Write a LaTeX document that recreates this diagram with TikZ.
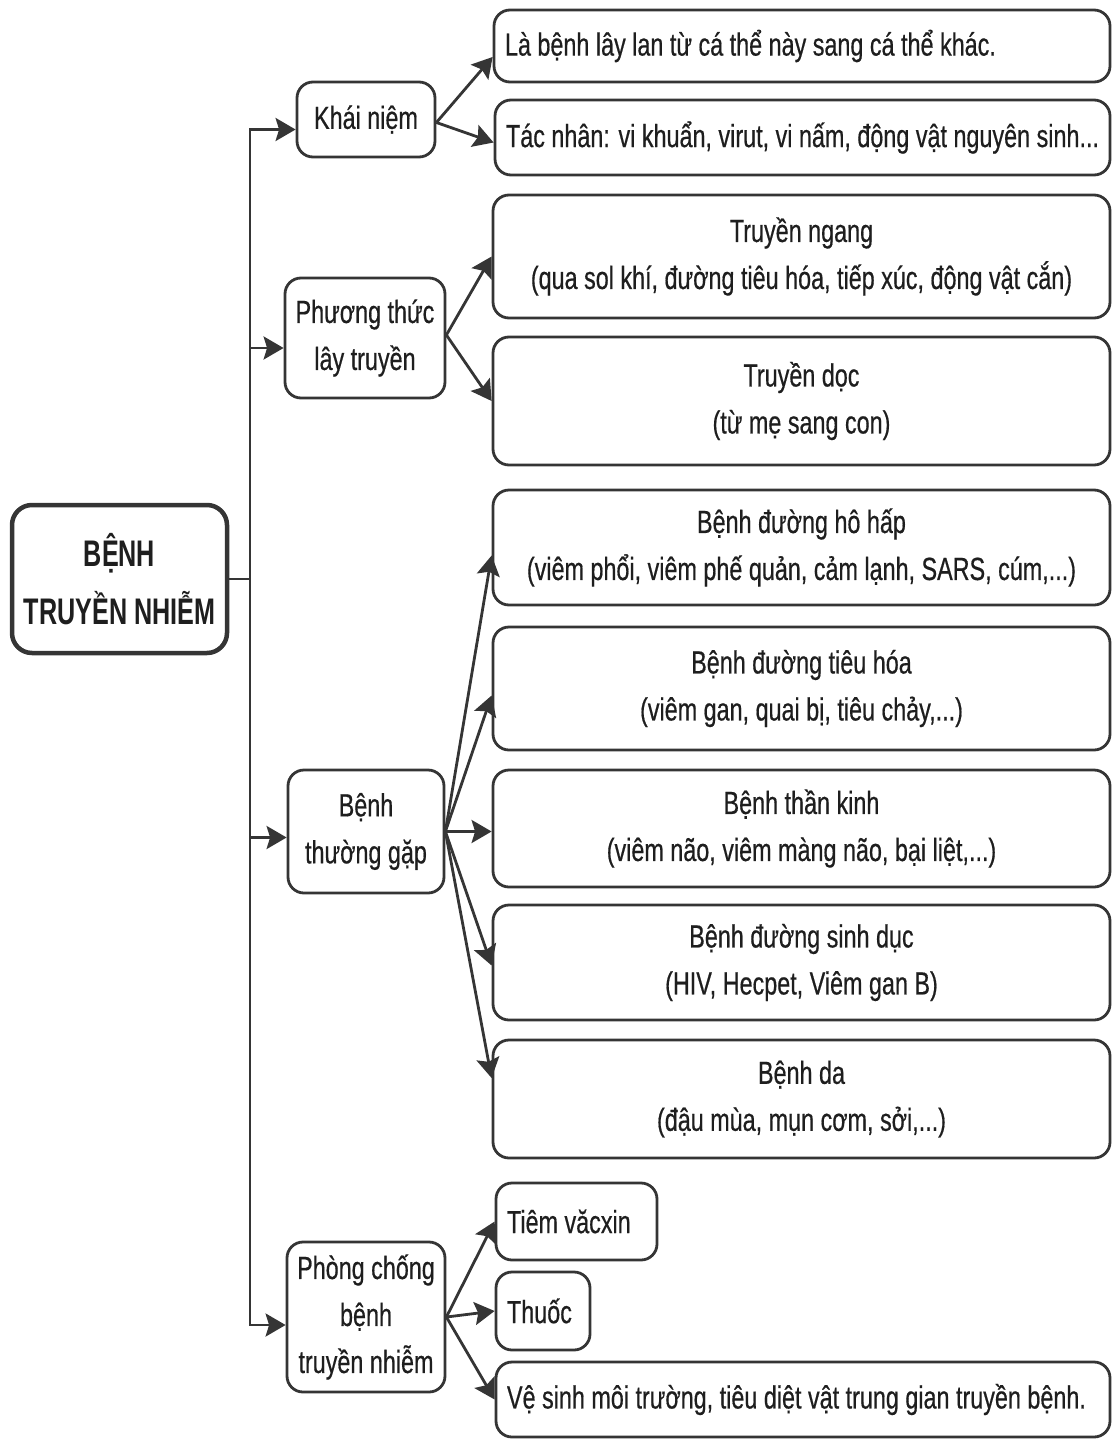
\documentclass[tikz,border=0pt]{standalone}
\usepackage{fontspec}
\setmainfont{Liberation Sans}[FakeStretch=0.73,FakeBold=0.5]
\newfontfamily\titlefont{Liberation Sans}[FakeStretch=0.68]
\usetikzlibrary{arrows.meta}
\newcommand\mainsz{\fontsize{32}{47}\selectfont}
\newcommand\titlesz{\titlefont\bfseries\fontsize{37}{58}\selectfont}
\definecolor{lc}{HTML}{353535}
\definecolor{tc}{HTML}{1E1E1E}
\tikzset{
  box/.style={draw=lc, line width=2.8pt, rounded corners=16pt, fill=white,
    inner sep=0pt, align=center, font=\mainsz, text=tc},
  lbox/.style={box, align=flush left, inner xsep=11pt, text width=#1},
  conn/.style={draw=lc, line width=2.8pt},
  arr/.style={conn, -{Stealth[length=20pt,width=23pt,inset=3.5pt]}},
}
\begin{document}
\begin{tikzpicture}[x=1pt,y=-1pt]
\useasboundingbox (0,0) rectangle (1113,1440);
% root
\node[box, line width=4.5pt, rounded corners=20pt, font=\titlesz,
  minimum width=215pt, minimum height=148pt] (root) at (119.5,579) {BỆNH\\TRUYỀN NHIỄM};
% level 1
\node[box, minimum width=138pt, minimum height=75pt] (k1) at (366,119.5) {Khái niệm};
\node[box, minimum width=160pt, minimum height=120pt] (k2) at (365,338) {Phương thức\\lây truyền};
\node[box, minimum width=156pt, minimum height=123pt] (k3) at (366,831.5) {Bệnh\\thường gặp};
\node[box, minimum width=158pt, minimum height=150pt] (k4) at (366,1317) {Phòng chống\\bệnh\\truyền nhiễm};
% level 2
\node[lbox=594pt, minimum height=72pt] (a1) at (802,46) {\mbox{Là bệnh lây lan từ cá thể này sang cá thể khác.}};
\node[lbox=593pt, minimum height=75pt] (a2) at (802.5,137.5) {\mbox{Tác nhân: vi khuẩn, virut, vi nấm, động vật nguyên sinh...}};
\node[box, minimum width=617pt, minimum height=123pt] (b1) at (801.5,256.5) {Truyền ngang\\(qua sol khí, đường tiêu hóa, tiếp xúc, động vật cắn)};
\node[box, minimum width=617pt, minimum height=128pt] (b2) at (801.5,401) {Truyền dọc\\(từ mẹ sang con)};
\node[box, minimum width=617pt, minimum height=115pt] (c1) at (801.5,547.5) {Bệnh đường hô hấp\\(viêm phổi, viêm phế quản, cảm lạnh, SARS, cúm,...)};
\node[box, minimum width=617pt, minimum height=123pt] (c2) at (801.5,688.5) {Bệnh đường tiêu hóa\\(viêm gan, quai bị, tiêu chảy,...)};
\node[box, minimum width=617pt, minimum height=117pt] (c3) at (801.5,828.5) {Bệnh thần kinh\\(viêm não, viêm màng não, bại liệt,...)};
\node[box, minimum width=617pt, minimum height=115pt] (c4) at (801.5,962.5) {Bệnh đường sinh dục\\(HIV, Hecpet, Viêm gan B)};
\node[box, minimum width=617pt, minimum height=118pt] (c5) at (801.5,1099) {Bệnh da\\(đậu mùa, mụn cơm, sởi,...)};
\node[lbox=139pt, minimum height=77pt] (d1) at (576.5,1221.5) {\mbox{Tiêm văcxin}};
\node[lbox=72pt, minimum height=78pt] (d2) at (543,1311) {\mbox{Thuốc}};
\node[lbox=592pt, minimum height=75pt] (d3) at (803,1399.5) {\mbox{Vệ sinh môi trường, tiêu diệt vật trung gian truyền bệnh.}};
% trunk
\coordinate (jn) at (250,579);
\draw[conn] (root.east) -- (jn);
\draw[arr] (jn) |- ([yshift=-10pt]k1.west);
\draw[arr] (jn) |- ([yshift=-10pt]k2.west);
\draw[arr] (jn) |- ([yshift=-6pt]k3.west);
\draw[arr] (jn) |- ([yshift=-8pt]k4.west);
% level 1 -> level 2
\draw[arr] ([yshift=-3pt]k1.east) -- ([yshift=-11pt]a1.west);
\draw[arr] ([yshift=-3pt]k1.east) -- ([yshift=-5pt]a2.west);
\draw[arr] ([yshift=3pt]k2.east) -- (b1.west);
\draw[arr] ([yshift=3pt]k2.east) -- (b2.west);
\draw[arr] (k3.east) -- ([yshift=-8pt]c1.west);
\draw[arr] (k3.east) -- ([yshift=-7pt]c2.west);
\draw[arr] (k3.east) -- ([yshift=-3pt]c3.west);
\draw[arr] (k3.east) -- ([yshift=-3pt]c4.west);
\draw[arr] (k3.east) -- ([yshift=21pt]c5.west);
\draw[arr] (k4.east) -- (d1.west);
\draw[arr] (k4.east) -- (d2.west);
\draw[arr] (k4.east) -- (d3.west);
\end{tikzpicture}
\end{document}
